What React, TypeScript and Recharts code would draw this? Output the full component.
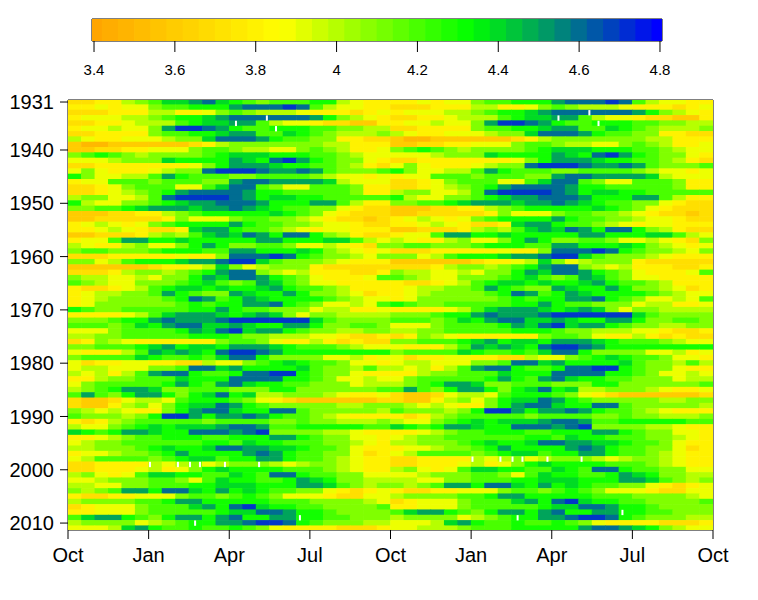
import React from "react";
import { ScatterChart, Scatter, XAxis, YAxis, ReferenceArea } from "recharts";

const monthNames = ["Oct", "Jan", "Apr", "Jul", "Oct", "Jan", "Apr", "Jul", "Oct"];
const monthTicks = [0, 3, 6, 9, 12, 15, 18, 21, 24];
const yearTicks = [1931, 1940, 1950, 1960, 1970, 1980, 1990, 2000, 2010];
const barTicks = [3.4, 3.6, 3.8, 4, 4.2, 4.4, 4.6, 4.8];
const barLevels = [3.4,3.44,3.48,3.52,3.56,3.6,3.64,3.68,3.72,3.76,3.8,3.84,3.88,3.92,3.96,4,4.04,4.08,4.12,4.16,4.2,4.24,4.28,4.32,4.36,4.4,4.44,4.48,4.52,4.56,4.6,4.64,4.68,4.72,4.76,4.8];

// Half-monthly values (tenths) for each water year, Oct to Sep
const y1930s = [
  [37,37,38,38,40,41,42,44,44,45,46,44,43,42,41,42,42,42,43,43,40,39,38,38],
  [38,38,39,38,39,39,41,42,42,43,43,43,45,46,46,46,47,46,42,40,39,39,38,38],
  [37,37,37,38,38,38,40,40,38,38,39,41,42,41,40,40,40,39,38,38,38,37,38,39],
  [38,39,39,39,40,40,41,42,43,43,44,45,46,46,46,46,46,46,45,43,41,40,39,38],
  [37,37,38,38,39,40,40,40,42,43,44,44,45,45,42,40,39,39,38,37,37,36,36,38],
  [38,39,39,40,39,39,41,45,47,47,46,45,43,42,42,43,43,43,42,42,41,41,40,40],
  [37,37,38,38,38,38,41,42,42,43,43,44,45,45,42,42,44,43,42,41,40,40,40,41],
  [40,39,38,38,39,39,39,40,41,41,44,46,46,46,45,43,42,42,41,41,38,38,37,37],
  [36,35,35,36,36,36,36,36,36,37,38,40,41,41,41,41,41,41,41,40,40,38,38,38],
];
const y1940s = [
  [36,36,37,37,38,38,39,39,39,41,42,42,41,40,40,39,39,41,42,41,40,38,38,39],
  [41,42,43,42,41,40,41,41,41,41,42,43,44,44,44,43,43,43,42,42,41,40,39,39],
  [39,39,39,40,41,41,41,44,43,43,43,43,45,44,43,46,47,45,43,42,41,41,39,38],
  [37,37,38,38,38,38,38,38,38,39,41,43,45,45,45,44,43,43,42,42,41,40,38,37],
  [39,41,39,38,38,38,39,40,41,41,46,47,47,47,46,45,45,46,45,42,41,41,41,42],
  [43,41,39,39,40,40,42,45,43,42,42,42,41,41,42,42,42,42,41,40,39,39,38,39],
  [38,39,39,42,42,42,41,42,42,42,41,41,45,46,46,45,45,45,45,44,40,39,39,39],
  [37,37,38,39,41,42,42,42,39,39,42,44,46,46,42,41,39,39,42,42,42,41,38,38],
  [37,37,38,39,40,41,42,43,45,46,46,46,46,45,43,43,42,42,42,42,42,41,38,38],
  [40,41,41,39,39,40,42,46,47,47,47,47,46,45,43,44,44,43,43,42,42,42,42,42],
];
const y1950s = [
  [43,40,39,39,41,41,42,43,44,45,45,46,46,46,45,43,43,43,45,45,42,40,38,38],
  [41,41,42,42,43,44,45,45,45,44,45,45,46,45,44,43,42,42,41,41,39,38,37,37],
  [36,36,36,37,37,38,38,40,41,42,43,43,43,43,43,44,43,42,41,39,38,37,37,37],
  [36,36,37,37,37,37,37,38,41,39,39,39,41,42,42,41,41,40,39,38,37,37,36,37],
  [38,39,40,39,38,39,41,42,43,43,43,43,45,43,42,42,41,41,40,39,39,38,37,37],
  [38,38,39,40,39,38,37,37,38,44,45,45,43,42,42,41,40,39,38,39,39,38,38,38],
  [36,36,37,37,37,38,40,41,40,42,44,45,44,46,45,43,46,46,43,41,40,38,37,37],
  [38,39,39,42,45,45,43,43,44,43,43,43,43,43,45,45,43,43,43,44,44,42,40,39],
  [40,39,38,38,40,41,39,39,41,43,45,43,41,41,42,42,41,39,39,40,39,38,37,41],
  [41,42,42,41,41,41,42,43,43,43,42,42,45,45,43,43,43,44,43,41,40,39,38,39],
];
const y1960s = [
  [37,37,37,38,38,38,38,38,39,38,38,41,46,46,46,47,46,43,42,41,41,40,39,41],
  [41,41,39,40,42,43,43,43,44,45,45,46,47,47,44,42,41,41,41,40,39,38,38,38],
  [36,36,36,36,36,36,37,38,38,39,40,44,41,39,40,41,41,41,38,37,37,37,37,37],
  [37,37,37,38,40,41,41,40,41,42,43,45,46,46,41,40,39,40,38,38,38,37,37,38],
  [41,40,40,39,39,40,39,41,41,43,45,44,46,46,45,43,42,41,39,38,38,38,39,42],
  [42,41,40,39,39,41,41,41,42,43,44,42,41,42,45,44,42,41,39,39,38,38,38,38],
  [38,37,37,38,39,40,42,43,44,44,43,44,43,43,44,45,43,42,42,41,40,38,38,38],
  [38,39,40,40,41,41,42,45,43,42,41,41,45,44,43,43,45,43,41,41,40,39,37,38],
  [38,39,40,41,41,41,41,42,43,46,45,42,43,45,44,43,43,43,43,42,41,40,39,39],
  [38,39,41,41,41,41,41,41,42,43,42,43,43,45,45,46,43,42,41,39,39,40,39,42],
];
const y1970s = [
  [43,42,41,41,42,42,42,42,42,43,43,45,43,42,42,41,41,41,39,40,40,38,38,39],
  [38,38,38,38,39,40,42,44,45,45,45,44,43,44,45,44,41,39,41,41,40,40,40,40],
  [41,41,41,42,43,43,45,46,45,45,45,46,47,47,47,47,47,47,44,42,41,41,41,41],
  [42,42,42,41,42,44,43,45,46,46,44,44,45,44,43,43,45,45,43,41,41,42,42,41],
  [39,39,39,41,42,42,42,42,43,45,44,46,47,44,45,45,43,42,41,41,40,40,41,41],
  [40,40,41,41,42,42,42,42,42,43,43,43,42,41,41,40,40,40,39,39,38,37,37,38],
  [37,38,41,40,39,38,38,38,38,38,38,41,42,42,41,39,38,38,40,38,37,38,37,37],
  [41,41,42,42,42,43,44,45,43,44,44,43,45,45,45,44,43,42,42,42,41,40,39,39],
  [39,38,38,38,40,42,45,44,45,44,43,46,47,47,46,45,43,43,43,43,43,43,43,43],
  [41,42,42,42,42,44,43,42,42,43,42,44,46,46,43,41,41,41,41,39,39,40,38,39],
];
const y1980s = [
  [39,37,38,38,39,39,38,38,37,37,40,39,39,41,42,43,44,43,42,42,41,39,39,38],
  [39,40,40,39,39,39,41,41,42,46,46,44,45,43,43,43,43,44,42,41,41,40,42,40],
  [40,39,40,38,40,42,45,46,46,43,42,42,43,46,46,47,47,43,42,41,41,39,38,38],
  [38,38,40,41,41,42,42,42,44,43,43,43,46,46,46,46,43,43,42,41,39,39,40,39],
  [39,41,42,42,42,42,42,43,45,43,42,45,46,44,43,43,42,42,41,41,41,39,40,40],
  [40,41,42,43,45,45,44,41,41,42,42,42,41,41,41,43,43,41,41,41,41,41,41,42],
  [42,45,42,41,43,45,45,43,41,43,44,46,43,44,40,40,41,41,41,40,39,38,38,39],
  [37,36,36,37,39,40,40,39,42,43,43,43,42,41,39,38,37,36,36,36,36,36,36,37],
  [37,36,36,38,40,41,39,41,43,44,44,46,45,43,42,41,41,41,41,41,40,40,41,41],
  [41,40,39,40,39,38,38,41,43,45,46,46,44,43,43,46,46,42,41,41,41,41,41,40],
];
const y1990s = [
  [42,41,41,41,40,41,43,47,47,45,43,45,45,46,45,43,42,42,41,40,39,38,38,38],
  [38,37,38,40,41,42,42,42,42,42,41,42,42,42,42,41,41,42,41,41,40,40,40,41],
  [40,39,39,41,42,43,44,43,44,44,44,45,46,46,45,42,42,43,43,43,43,43,42,42],
  [44,43,42,43,45,45,44,43,43,46,46,46,45,46,47,41,41,41,41,40,40,39,38,38],
  [38,38,39,40,41,42,42,43,43,43,42,42,43,43,43,45,45,43,42,41,41,39,39,38],
  [39,40,41,41,42,42,42,42,42,42,43,43,42,44,43,43,42,42,42,41,41,40,39,38],
  [40,40,41,41,41,42,43,44,43,43,44,46,46,45,45,44,44,43,42,42,41,39,38,38],
  [38,39,39,40,41,41,42,43,45,43,43,43,43,45,46,45,43,42,42,41,41,39,37,38],
  [39,40,42,42,42,42,41,42,43,44,44,42,43,43,45,45,43,42,42,41,40,39,38,38],
  [37,37,38,38,38,38,40,39,40,41,39,40,41,41,41,40,39,40,41,41,40,39,38,38],
];
const y2000s = [
  [37,37,38,38,38,39,40,38,39,41,43,44,43,43,43,43,42,42,42,41,40,39,38,38],
  [40,41,39,38,39,42,44,44,43,43,42,42,44,43,42,46,46,43,42,42,41,41,39,39],
  [39,39,40,41,41,41,42,42,41,39,42,44,43,43,42,42,43,45,44,43,41,41,40,40],
  [40,40,39,39,41,41,42,42,42,43,43,44,44,44,43,43,43,45,45,44,42,41,40,41],
  [41,40,41,42,45,45,43,46,46,44,43,45,43,44,43,42,42,41,41,39,38,37,38,39],
  [38,37,37,38,38,39,39,39,41,42,42,41,42,43,42,41,39,39,39,38,37,37,39,39],
  [40,41,41,41,41,42,42,43,45,45,43,43,43,43,43,42,42,42,41,41,41,41,40,39],
  [37,38,39,39,39,41,42,42,42,44,45,43,46,47,44,43,43,42,42,41,41,41,41,42],
  [38,38,39,39,39,41,42,42,42,42,42,43,44,44,46,46,45,43,43,42,41,41,41,41],
  [42,44,45,45,43,42,41,43,45,45,43,45,46,43,43,45,45,43,43,42,42,41,41,41],
];
const y2010s = [
  [40,41,41,41,41,39,40,41,42,43,43,45,45,46,47,47,46,43,42,41,41,41,40,40],
  [39,39,39,40,44,45,43,42,42,43,42,42,43,42,41,39,38,38,38,38,37,37,37,38],
  [39,39,40,40,40,41,42,42,42,43,43,43,43,43,45,46,46,45,44,43,41,40,39,39],
];

const gapYears = [1935, 1934, 1936, 1999, 1999, 1999, 1999, 1999, 1999, 2009, 2010];
const gapMonths = [6.25, 7.4, 7.74, 3.05, 4.09, 4.54, 4.91, 5.84, 7.11, 8.63, 4.73];

const waterYears = [...y1930s, ...y1940s, ...y1950s, ...y1960s, ...y1970s, ...y1980s, ...y1990s, ...y2000s, ...y2010s];
const FIRST_YEAR = 1931;

const PLOT = { left: 68, right: 713, top: 100, bottom: 530 };
const BAR = { left: 92, right: 662, top: 19, bottom: 41 };
const BAR_DOMAIN: [number, number] = [3.395, 4.805];
const Y_DOMAIN: [number, number] = [1930.62, 2011.3];
const cellW = (PLOT.right - PLOT.left) / 48 + 0.6;
const cellH = (PLOT.bottom - PLOT.top) / (Y_DOMAIN[1] - Y_DOMAIN[0]) + 0.6;
const levelW = (BAR.right - BAR.left) / (barLevels.length - 1) + 0.6;

const STOPS: [number, number, number][] = [[255, 165, 0], [255, 255, 0], [0, 255, 0], [0, 0, 255]];
const colorOf = (v: number) => {
  const t = Math.max(0, Math.min(0.9999, (v - 3.4) / 1.4)) * 3;
  const i = Math.floor(t);
  const f = t - i;
  const a = STOPS[i], b = STOPS[i + 1];
  return `rgb(${Math.round(a[0] + (b[0] - a[0]) * f)},${Math.round(a[1] + (b[1] - a[1]) * f)},${Math.round(a[2] + (b[2] - a[2]) * f)})`;
};

const cells: { x: number; y: number; v: number }[] = [];
waterYears.forEach((row, r) => {
  const year = FIRST_YEAR + r;
  row.forEach((val, c) => {
    if (r < waterYears.length - 1) cells.push({ x: (c + 0.5) / 2, y: year, v: val / 10 });
    if (r > 0) cells.push({ x: 12 + (c + 0.5) / 2, y: year - 1, v: val / 10 });
  });
});

const gaps: { x: number; y: number }[] = [];
gapYears.forEach((yr, i) => {
  gaps.push({ x: gapMonths[i], y: yr });
  gaps.push({ x: gapMonths[i] + 12, y: yr - 1 });
});

const barData = barLevels.map((v) => ({ x: v, y: 0.5, v }));

const CellShape = (p: any) => (
  <rect x={p.cx - cellW / 2} y={p.cy - cellH / 2} width={cellW} height={cellH} fill={colorOf(p.payload.v)} />
);
const GapShape = (p: any) => <rect x={p.cx - 1} y={p.cy - 2.6} width={2} height={5.3} fill="#fff" />;
const LevelShape = (p: any) => {
  const x0 = Math.max(BAR.left, p.cx - levelW / 2);
  const x1 = Math.min(BAR.right, p.cx + levelW / 2);
  return <rect x={x0} y={BAR.top} width={x1 - x0} height={BAR.bottom - BAR.top} fill={colorOf(p.payload.v)} />;
};

const FONT = "'Liberation Sans', Arial, sans-serif";

export default function App() {
  return (
    <div style={{ position: "absolute", left: 0, top: 0, width: 758, height: 600, background: "#fff", fontFamily: FONT }}>
      <div style={{ position: "absolute", left: 0, top: 0 }}>
        <ScatterChart
          width={758}
          height={90}
          margin={{ top: BAR.top, right: 758 - BAR.right, bottom: 0, left: BAR.left }}
        >
          <XAxis
            type="number"
            dataKey="x"
            domain={BAR_DOMAIN}
            ticks={barTicks}
            tickFormatter={(v: number) => String(v)}
            height={90 - BAR.bottom}
            tickSize={11}
            tickMargin={12}
            interval={0}
            allowDataOverflow
            axisLine={false}
            tickLine={{ stroke: "#000" }}
            tick={{ fill: "#000", fontSize: 15, fontFamily: FONT }}
          />
          <YAxis type="number" dataKey="y" domain={[0, 1]} width={0} hide />
          <Scatter data={barData} shape={LevelShape} isAnimationActive={false} />
          <ReferenceArea x1={BAR_DOMAIN[0]} x2={BAR_DOMAIN[1]} y1={0} y2={1} fill="none" stroke="#000" strokeWidth={1} />
        </ScatterChart>
      </div>
      <div style={{ position: "absolute", left: 0, top: 0 }}>
        <ScatterChart
          width={758}
          height={600}
          margin={{ top: PLOT.top, right: 758 - PLOT.right, bottom: 0, left: 0 }}
        >
          <XAxis
            type="number"
            dataKey="x"
            domain={[0, 24]}
            ticks={monthTicks}
            tickFormatter={(_: number, i: number) => monthNames[i]}
            height={600 - PLOT.bottom}
            tickSize={9}
            tickMargin={9}
            interval={0}
            allowDataOverflow
            axisLine={false}
            tickLine={{ stroke: "#000" }}
            tick={{ fill: "#000", fontSize: 20, fontFamily: FONT }}
          />
          <YAxis
            type="number"
            dataKey="y"
            domain={Y_DOMAIN}
            reversed
            ticks={yearTicks}
            width={PLOT.left}
            tickSize={8}
            tickMargin={6}
            interval={0}
            allowDataOverflow
            axisLine={false}
            tickLine={{ stroke: "#000" }}
            tick={{ fill: "#000", fontSize: 20, fontFamily: FONT }}
          />
          <Scatter data={cells} shape={CellShape} isAnimationActive={false} />
          <Scatter data={gaps} shape={GapShape} isAnimationActive={false} />
          <ReferenceArea x1={0} x2={24} y1={Y_DOMAIN[0]} y2={Y_DOMAIN[1]} fill="none" stroke="#000" strokeWidth={1} />
        </ScatterChart>
      </div>
    </div>
  );
}
